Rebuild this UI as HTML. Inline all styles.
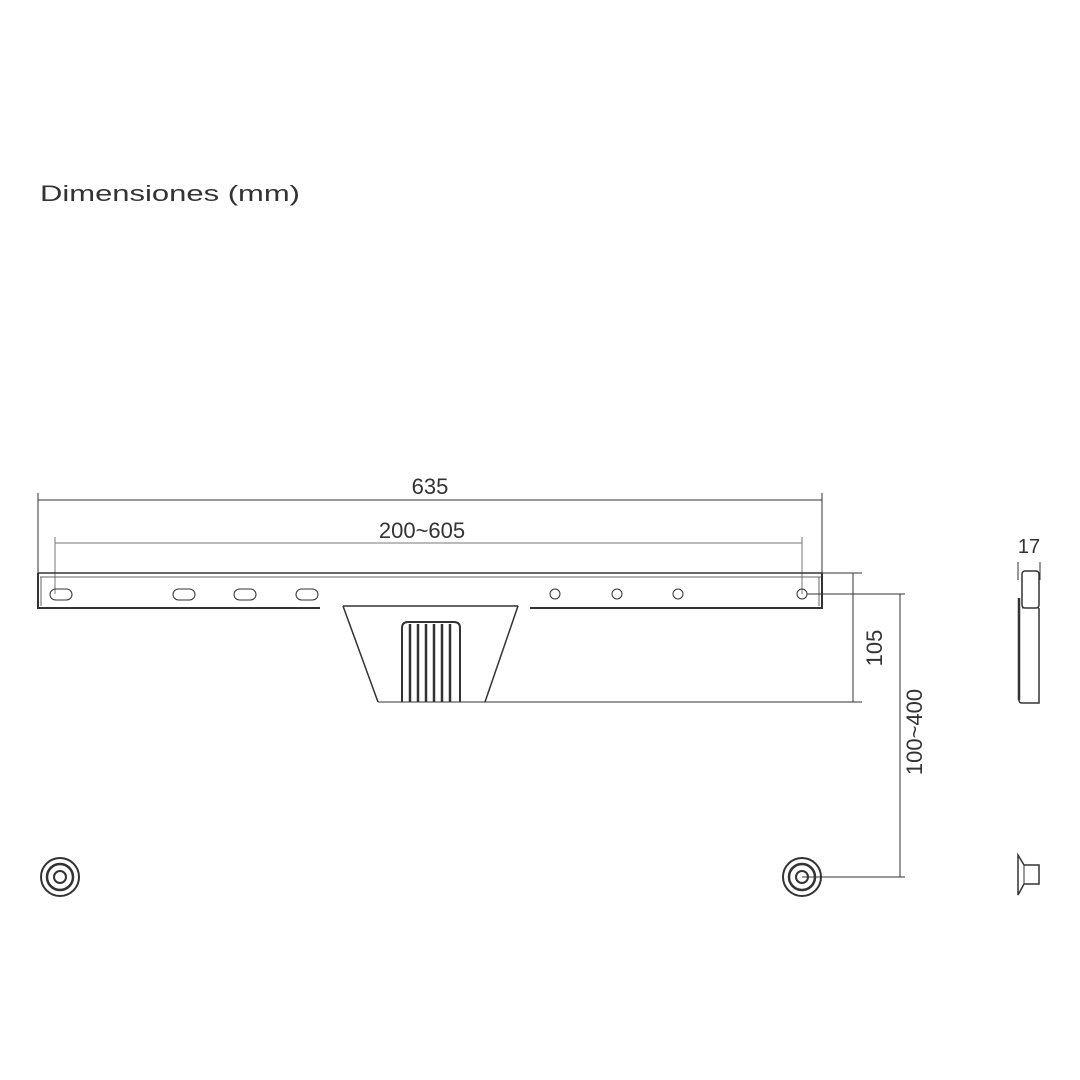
<!DOCTYPE html>
<html><head><meta charset="utf-8"><style>
html,body{margin:0;padding:0;background:#fff;}
svg{display:block;}
text{font-family:"Liberation Sans",sans-serif;fill:#333;}
</style></head><body>
<svg width="1080" height="1080" viewBox="0 0 1080 1080" xmlns="http://www.w3.org/2000/svg">
<text x="40" y="201" font-size="22" textLength="260" lengthAdjust="spacingAndGlyphs">Dimensiones (mm)</text>
<g stroke="#333" fill="none" stroke-width="1">
<line x1="38" y1="500" x2="822" y2="500"/>
<line x1="38" y1="493" x2="38" y2="573"/>
<line x1="822" y1="493" x2="822" y2="573"/>
<line x1="55" y1="543" x2="802" y2="543" stroke="#777"/>
<line x1="55" y1="537" x2="55" y2="594" stroke="#777"/>
<line x1="802" y1="537" x2="802" y2="594" stroke="#777"/>
<line x1="38" y1="573" x2="822" y2="573" stroke-width="1.5"/>
<line x1="40" y1="577" x2="822" y2="577" stroke="#666"/>
<polyline points="38,573 38,608 320,608" stroke-width="2"/>
<polyline points="530,608 822,608 822,573" stroke-width="2"/>
<line x1="41" y1="577" x2="41" y2="606" stroke="#666"/>
<line x1="819" y1="577" x2="819" y2="606" stroke="#666"/>
<rect x="50" y="589" width="22" height="11" rx="5.5"/>
<rect x="173" y="589" width="22" height="11" rx="5.5"/>
<rect x="234" y="589" width="22" height="11" rx="5.5"/>
<rect x="296" y="589" width="22" height="11" rx="5.5"/>
<circle cx="555" cy="594" r="5"/>
<circle cx="617" cy="594" r="5"/>
<circle cx="678" cy="594" r="5"/>
<circle cx="802" cy="594" r="5"/>
<line x1="343" y1="606" x2="518" y2="606" stroke-width="1.5"/>
<line x1="343" y1="606" x2="378" y2="702" stroke-width="1.5"/>
<line x1="518" y1="606" x2="485" y2="702" stroke-width="1.5"/>
<line x1="378" y1="702" x2="862" y2="702"/>
<path d="M402,702 V628 Q402,622 408,622 H454 Q460,622 460,628 V702" stroke-width="2"/>
<g stroke-width="2.5">
<line x1="410" y1="624" x2="410" y2="702"/>
<line x1="418" y1="624" x2="418" y2="702"/>
<line x1="426" y1="624" x2="426" y2="702"/>
<line x1="434" y1="624" x2="434" y2="702"/>
<line x1="442" y1="624" x2="442" y2="702"/>
<line x1="450" y1="624" x2="450" y2="702"/>
</g>
<line x1="822" y1="573" x2="862" y2="573"/>
<line x1="853" y1="573" x2="853" y2="702"/>
<line x1="807" y1="594" x2="905" y2="594"/>
<line x1="900" y1="594" x2="900" y2="877"/>
<line x1="802" y1="877" x2="905" y2="877"/>
<circle cx="60" cy="877" r="19" stroke-width="2"/>
<circle cx="60" cy="877" r="13" stroke-width="2.5"/>
<circle cx="60" cy="877" r="6" stroke-width="2"/>
<circle cx="802" cy="877" r="19" stroke-width="2"/>
<circle cx="802" cy="877" r="13" stroke-width="2.5"/>
<circle cx="802" cy="877" r="6" stroke-width="2"/>
<line x1="1018" y1="562" x2="1018" y2="580"/>
<line x1="1040" y1="562" x2="1040" y2="580"/>
<rect x="1022" y="571" width="17" height="37" rx="3" stroke-width="1.5"/>
<path d="M1019,598 V700 Q1019,703 1022,703 H1039 V608" stroke-width="1.5"/>
<line x1="1019" y1="598" x2="1019" y2="700" stroke-width="2.5"/>
<line x1="1022" y1="608" x2="1039" y2="608"/>
<path d="M1018,855 L1024,865 H1039 V884 H1024 L1018,895 Z" stroke-width="1.5"/>
<line x1="1024" y1="865" x2="1024" y2="884"/>
</g>
<text x="430" y="494" font-size="22" text-anchor="middle">635</text>
<text x="422" y="538" font-size="22" text-anchor="middle">200~605</text>
<text x="1029" y="553" font-size="20" text-anchor="middle">17</text>
<text transform="translate(882,648) rotate(-90)" font-size="22" text-anchor="middle">105</text>
<text transform="translate(922,732) rotate(-90)" font-size="22" text-anchor="middle">100~400</text>
</svg>
</body></html>
